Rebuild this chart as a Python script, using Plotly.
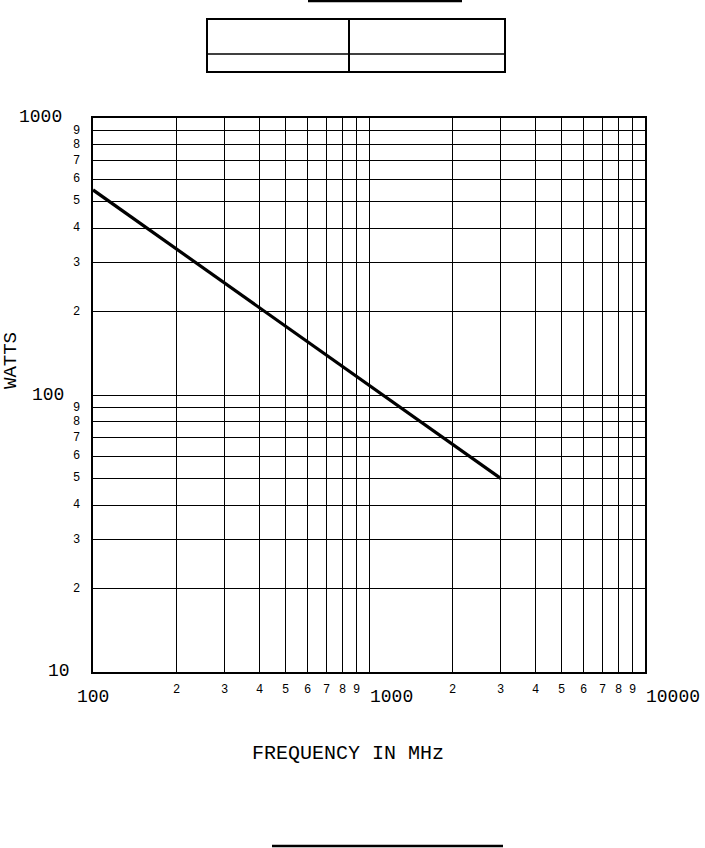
import plotly.graph_objects as go
import math

# ---- data ----
freq_mhz = [100, 3000]
watts = [550, 50]

x_major = [100, 1000, 10000]
x_major_text = ["100", "1000", "10000"]
x_minor_mult = [2, 3, 4, 5, 6, 7, 8, 9]
y_major = [10, 100, 1000]
y_major_text = ["10", "100", "1000"]
y_minor_mult = [2, 3, 4, 5, 6, 7, 8, 9]

W, H = 705, 848
L, R, T, B = 93, 645, 118, 672
FONT = "Liberation Mono"

fig = go.Figure()
fig.add_trace(go.Scatter(x=freq_mhz, y=watts, mode="lines",
                         line=dict(color="black", width=3.2), showlegend=False,
                         hoverinfo="skip"))

grid_x = [m * d for d in (100, 1000) for m in range(1, 10)] + [10000]
grid_y = [m * d for d in (10, 100) for m in range(1, 10)] + [1000]

fig.update_layout(
    width=W, height=H,
    margin=dict(l=L, r=W - R, t=T, b=H - B, pad=0),
    paper_bgcolor="white", plot_bgcolor="white",
    font=dict(family=FONT, color="black"),
    xaxis=dict(type="log", range=[2, 4], tickvals=grid_x, showticklabels=False,
               showgrid=True, gridcolor="black", gridwidth=1, ticks="",
               showline=True, linecolor="black", linewidth=1.5, mirror=True,
               zeroline=False),
    yaxis=dict(type="log", range=[1, 3], tickvals=grid_y, showticklabels=False,
               showgrid=True, gridcolor="black", gridwidth=1, ticks="",
               showline=True, linecolor="black", linewidth=1.5, mirror=True,
               zeroline=False),
)

def px_x(p):
    return (p - L) / (R - L)

def px_y(p):
    return (B - p) / (B - T)

ann = []
# x major labels
for v, t in zip(x_major, x_major_text):
    if v == 100:
        ann.append(dict(x=math.log10(v), y=px_y(697), xref="x", yref="paper", text=t,
                        xanchor="center", yanchor="middle", showarrow=False,
                        font=dict(size=18, family=FONT)))
    else:
        ann.append(dict(x=math.log10(v), y=px_y(697), xref="x", yref="paper", text=t,
                        xanchor="left", yanchor="middle", showarrow=False, xshift=-1,
                        font=dict(size=18, family=FONT)))
# x minor labels
for d in (100, 1000):
    for m in x_minor_mult:
        ann.append(dict(x=math.log10(m * d), y=px_y(690), xref="x", yref="paper",
                        text=str(m), xanchor="center", yanchor="middle", showarrow=False,
                        font=dict(size=12, family=FONT)))
# y major labels
y_major_right = {10: 72, 100: 66, 1000: 64}
y_major_pos = {10: 671, 100: 395, 1000: 117}
for v, t in zip(y_major, y_major_text):
    ann.append(dict(x=px_x(y_major_right[v]), y=px_y(y_major_pos[v]), xref="paper", yref="paper",
                    text=t, xanchor="right", yanchor="middle", showarrow=False,
                    font=dict(size=18, family=FONT)))
# y minor labels
for d in (10, 100):
    for m in y_minor_mult:
        ann.append(dict(x=px_x(76), y=math.log10(m * d), xref="paper", yref="y",
                        text=str(m), xanchor="center", yanchor="middle", showarrow=False,
                        font=dict(size=12, family=FONT)))
# axis titles
ann.append(dict(x=px_x(348), y=px_y(753), xref="paper", yref="paper", text="FREQUENCY IN MHz",
                xanchor="center", yanchor="middle", showarrow=False,
                font=dict(size=20, family=FONT)))
ann.append(dict(x=px_x(11), y=px_y(361), xref="paper", yref="paper", text="WATTS",
                xanchor="center", yanchor="middle", showarrow=False, textangle=-90,
                font=dict(size=19, family=FONT)))
fig.update_layout(annotations=ann)

# decorative lines and empty table
shapes = []
def line(x0, y0, x1, y1, w):
    shapes.append(dict(type="line", xref="paper", yref="paper",
                       x0=px_x(x0), y0=px_y(y0), x1=px_x(x1), y1=px_y(y1),
                       line=dict(color="black", width=w)))
line(308, 1, 462, 1, 2.5)
line(272, 846, 503, 846, 2.5)
shapes.append(dict(type="rect", xref="paper", yref="paper",
                   x0=px_x(207), y0=px_y(19), x1=px_x(505), y1=px_y(72),
                   line=dict(color="black", width=2)))
line(349, 19, 349, 72, 2)
line(207, 54, 505, 54, 1.5)
fig.update_layout(shapes=shapes)

fig.write_html("out.html", config={"displayModeBar": False},
               post_script="document.body.style.margin='0';document.body.style.overflow='hidden';")
